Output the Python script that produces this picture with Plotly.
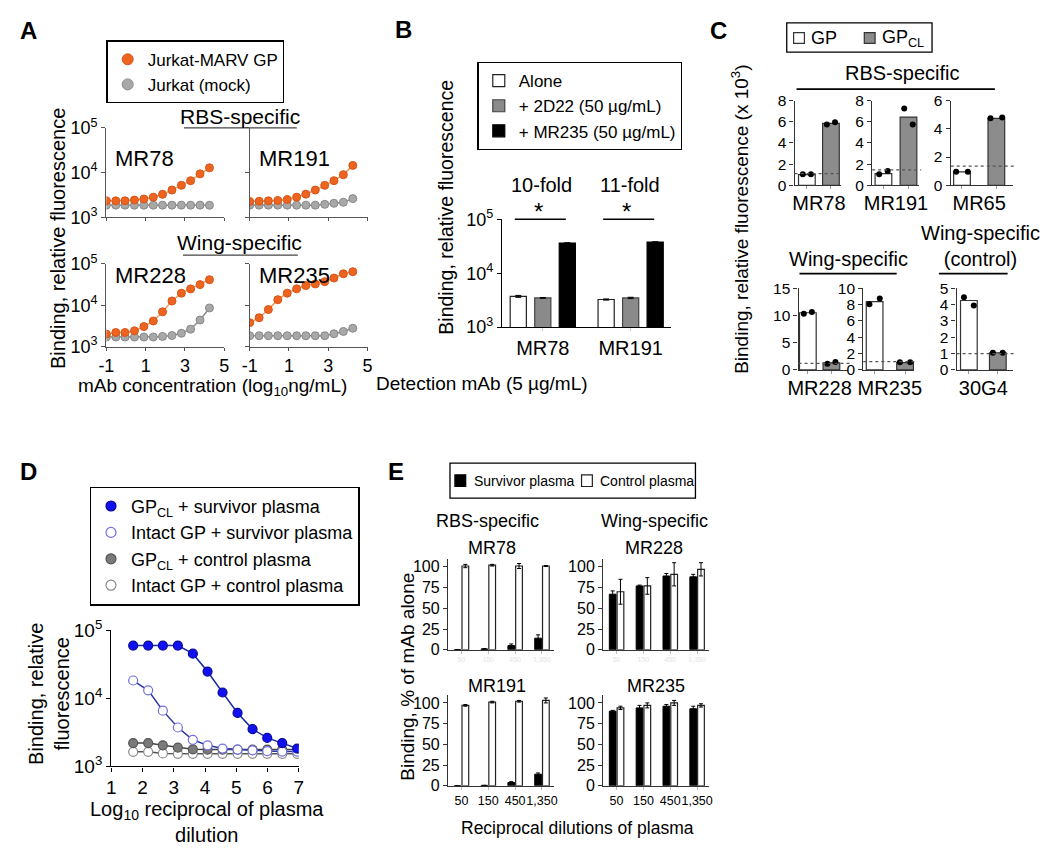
import plotly.graph_objects as go

# The page body has an 8px default margin, so the figure is drawn 8px smaller
# and all reference pixel positions are mapped by subtracting that offset.
PAGE_W, PAGE_H, BODY = 1050, 860, 8
W, H = PAGE_W - BODY, PAGE_H - BODY
ARIAL = "Liberation Sans, Arial, Helvetica, sans-serif"

# ---------------- DATA ----------------
# Panel A: binding vs mAb concentration (log10 ng/mL)
a_log_conc = [-1.0, -0.52, -0.05, 0.43, 0.91, 1.39, 1.86, 2.34, 2.82, 3.29, 3.77, 4.25]
a_xticks = [-1, 1, 3, 5]
a_mabs = ["MR78", "MR191", "MR228", "MR235"]
a_marv_mr78 = [2340, 2340, 2340, 2430, 2570, 2820, 3270, 4070, 5190, 6590, 9370, 12800]
a_mock_mr78 = [1870, 1870, 1870, 1870, 1870, 1870, 1870, 1870, 1870, 1870, 1870, 1860]
a_marv_mr191 = [2260, 2280, 2340, 2380, 2500, 2820, 3300, 4070, 5190, 6600, 9000, 14500]
a_mock_mr191 = [1870, 1870, 1870, 1870, 1870, 1870, 1870, 1870, 1950, 2060, 2170, 2620]
a_marv_mr228 = [2005, 2190, 2190, 2400, 3050, 4160, 6930, 12700, 19600, 24900, 31600, 41600]
a_mock_mr228 = [1700, 1700, 1700, 1700, 1700, 1700, 1760, 1850, 2100, 2640, 4390, 8600]
a_marv_mr235 = [3790, 4990, 7880, 13650, 19650, 24950, 29940, 32800, 37250, 45600, 58000, 65000]
a_mock_mr235 = [1830, 1830, 1830, 1830, 1830, 1830, 1830, 1830, 1830, 2040, 2320, 2780]
a_legend = ["Jurkat-MARV GP", "Jurkat (mock)"]

# Panel B: detection mAb binding with competitors
b_mabs = ["MR78", "MR191"]
b_alone = [3720, 3250]
b_alone_err = [150, 80]
b_2d22 = [3480, 3480]
b_2d22_err = [60, 100]
b_mr235 = [36200, 37700]
b_mr235_err = [600, 600]
b_names = ["Alone", "+ 2D22 (50 µg/mL)", "+ MR235 (50 µg/mL)"]
b_fold = ["10-fold", "11-fold"]

# Panel C: binding to GP vs GPCL (x 10^3)
c_groups = ["GP", "GP<sub>CL</sub>"]
c_top_mabs = ["MR78", "MR191", "MR65"]
c_top_gp = [1.0, 1.1, 0.95]
c_top_gp_reps = [[1.05, 1.05], [1.05, 1.35], [0.95, 0.95]]
c_top_gpcl = [5.85, 6.45, 4.75]
c_top_gpcl_reps = [[5.75, 5.95], [7.25, 5.75], [4.75, 4.8]]
c_top_cutoff = [1.1, 1.45, 1.35]
c_top_ymax = [8, 8, 6]
c_bot_mabs = ["MR228", "MR235", "30G4"]
c_bot_gp = [10.5, 8.35, 4.25]
c_bot_gp_reps = [[10.3, 10.65], [8.05, 8.75], [4.45, 3.95]]
c_bot_gpcl = [1.3, 0.9, 1.05]
c_bot_gpcl_reps = [[1.15, 1.45], [0.95, 0.95], [1.05, 1.05]]
c_bot_cutoff = [1.2, 1.0, 1.0]
c_bot_ymax = [15, 10, 5]
c_bot_dtick = [5, 2, 1]

# Panel D: plasma titration
d_log_dil = [1.7, 2.18, 2.65, 3.13, 3.61, 4.08, 4.56, 5.04, 5.52, 5.99, 6.47, 6.95]
d_gpcl_surv = [59800, 59800, 59800, 59800, 45400, 24800, 12190, 6100, 3530, 2620, 2200, 1830]
d_gp_surv = [18300, 13150, 6600, 3730, 2460, 2040, 1830, 1770, 1720, 1680, 1650, 1650]
d_gpcl_ctrl = [2200, 2200, 2040, 1890, 1780, 1770, 1770, 1770, 1770, 1770, 1770, 1770]
d_gp_ctrl = [1640, 1640, 1550, 1530, 1530, 1530, 1530, 1530, 1530, 1530, 1530, 1530]
d_names = ["GP<sub>CL</sub> + survivor plasma", "Intact GP + survivor plasma",
           "GP<sub>CL</sub> + control plasma", "Intact GP + control plasma"]

# Panel E: % of mAb alone
e_dil = ["50", "150", "450", "1,350"]
e_surv_mr78 = [0, 1, 5, 14]
e_surv_mr78_err = [0, 0.5, 2, 4]
e_ctrl_mr78 = [101, 102, 101, 101]
e_ctrl_mr78_err = [2, 1, 3, 0.5]
e_surv_mr228 = [67, 77, 89, 88]
e_surv_mr228_err = [4, 1, 3, 3]
e_ctrl_mr228 = [70, 77, 91, 97]
e_ctrl_mr228_err = [15, 10, 14, 8]
e_surv_mr191 = [0, 0.5, 4, 14]
e_surv_mr191_err = [0, 0.2, 1, 1.5]
e_ctrl_mr191 = [97, 101, 102, 103]
e_ctrl_mr191_err = [1, 1, 1, 3]
e_surv_mr235 = [90, 94, 96, 93]
e_surv_mr235_err = [1, 3, 2, 3]
e_ctrl_mr235 = [94, 97, 100, 97]
e_ctrl_mr235_err = [2, 3, 3, 2]
e_names = ["Survivor plasma", "Control plasma"]

# ---------------- HELPERS ----------------
fig = go.Figure()
axes_layout = {}
annotations = []
shapes = []
_n = [0]


def fx(px):
    return (px - BODY) / W


def fy(py):
    return 1 - (py - BODY) / H


def add_axes(x0, x1, ytop, ybot, xa, ya):
    _n[0] += 1
    s = "" if _n[0] == 1 else str(_n[0])
    axes_layout["xaxis" + s] = dict(domain=[fx(x0), fx(x1)], anchor="y" + s, **xa)
    axes_layout["yaxis" + s] = dict(domain=[fy(ybot), fy(ytop)], anchor="x" + s, **ya)
    return "x" + s, "y" + s


def base_axis(color="black", size=16, lw=1.3):
    return dict(showline=True, linecolor=color, linewidth=lw, ticks="outside",
                ticklen=4, tickwidth=lw, tickcolor=color, showgrid=False,
                zeroline=False, fixedrange=True, tickangle=0,
                tickfont=dict(size=size, family=ARIAL, color="black"))


def text(px, py, s, size=17, xanchor="center", yanchor="middle", angle=0):
    annotations.append(dict(x=fx(px), y=fy(py), xref="paper", yref="paper", text=s,
                            showarrow=False, xanchor=xanchor, yanchor=yanchor, textangle=angle,
                            font=dict(size=size, family=ARIAL, color="black")))


def hline(x0, x1, py, width=1.6, color="black"):
    shapes.append(dict(type="line", xref="paper", yref="paper", x0=fx(x0), x1=fx(x1),
                       y0=fy(py), y1=fy(py), line=dict(color=color, width=width)))


def box(x0, y0, x1, y1, fill="white", line="black", width=1.3):
    shapes.append(dict(type="rect", xref="paper", yref="paper", x0=fx(x0), x1=fx(x1),
                       y0=fy(y1), y1=fy(y0), fillcolor=fill, line=dict(color=line, width=width)))


LOGTICKS = dict(type="log", range=[3, 5], tickvals=[1e3, 1e4, 1e5],
                ticktext=["10<sup>3</sup>", "10<sup>4</sup>", "10<sup>5</sup>"])

# ---------------- PANEL A ----------------
ORANGE, ORANGE_LINE = "#EC6420", "#F39A5E"
GREY, GREY_LINE = "#A8A8A8", "#8C8C8C"
a_pos = [(97, 217, 118, 210), (243, 363, 118, 210), (97, 217, 258, 343), (243, 363, 258, 343)]
a_marv = [a_marv_mr78, a_marv_mr191, a_marv_mr228, a_marv_mr235]
a_mock = [a_mock_mr78, a_mock_mr191, a_mock_mr228, a_mock_mr235]
for i, name in enumerate(a_mabs):
    x0, x1, yt, yb = a_pos[i]
    xa = base_axis("#555", 18)
    xa.update(range=[-1, 5], tickvals=a_xticks, ticktext=[str(v) for v in a_xticks],
              showticklabels=i >= 2, ticklen=3)
    ya = base_axis("#555", 18)
    ya.update(LOGTICKS, showticklabels=(i % 2 == 0))
    xr, yr = add_axes(x0, x1, yt, yb, xa, ya)
    fig.add_trace(go.Scatter(x=a_log_conc, y=a_mock[i], mode="lines+markers", xaxis=xr, yaxis=yr,
                             line=dict(color=GREY_LINE, width=1.5), showlegend=False,
                             marker=dict(color=GREY, size=8, line=dict(color="#888", width=1))))
    fig.add_trace(go.Scatter(x=a_log_conc, y=a_marv[i], mode="lines+markers", xaxis=xr, yaxis=yr,
                             line=dict(color=ORANGE_LINE, width=1.5), showlegend=False,
                             marker=dict(color=ORANGE, size=8, line=dict(color="#D85518", width=1))))
    text(x0 + 7, yt + 32 if i < 2 else yt + 12, name, size=22, xanchor="left")
    if i == 0:
        for nm, col, lc in [(a_legend[0], ORANGE, "#D85518"), (a_legend[1], GREY, "#888")]:
            fig.add_trace(go.Scatter(x=[None], y=[None], mode="markers", name=nm, xaxis=xr, yaxis=yr,
                                     legend="legend",
                                     marker=dict(color=col, size=11, line=dict(color=lc, width=1))))

text(233, 106, "RBS-specific", size=21)
hline(176, 291, 118, width=1.2, color="#444")
text(233, 236, "Wing-specific", size=21)
hline(175, 292, 249, width=1.2, color="#444")
text(47, 232, "Binding, relative fluorescence", size=20, angle=-90)
text(205, 385, "mAb concentration (log<sub>10</sub>ng/mL)", size=19)
text(18, 18, "<b>A</b>", size=24)

# ---------------- PANEL B ----------------
xa = base_axis("black", 20)
xa.update(type="category", categoryarray=b_mabs, range=[-0.464, 1.458], ticklen=3, tickcolor="#ccc")
ya = base_axis("black", 18)
ya.update(LOGTICKS)
xr, yr = add_axes(500, 672, 212, 323, xa, ya)
b_series = [(b_alone, b_alone_err, "white", "#222", -0.371),
            (b_2d22, b_2d22_err, "#8A8A8A", "#444", -0.092),
            (b_mr235, b_mr235_err, "black", "black", 0.187)]
for k, (vals, errs, fill, lc, off) in enumerate(b_series):
    fig.add_trace(go.Bar(x=b_mabs, y=vals, name=b_names[k], xaxis=xr, yaxis=yr, legend="legend2",
                         offset=off, width=0.184,
                         marker=dict(color=fill, line=dict(color=lc, width=1.2)),
                         error_y=dict(type="data", array=errs, color="black", thickness=1, width=3)))
for k, cx in enumerate([540, 630]):
    text(cx, 177, b_fold[k], size=20)
    text(cx - 3, 204, "*", size=24)
    hline(cx - 27, cx + 25, 212, width=1.5)
text(443, 200, "Binding, relative fluorescence", size=19.5, angle=-90)
text(480, 381, "Detection mAb (5 µg/mL)", size=19)
text(400, 17, "<b>B</b>", size=24)

# ---------------- PANEL C ----------------
c_top_pos = [(798, 845, 810.5, 835), (877, 925, 888.5, 914), (957, 1020, 968.5, 1003.5)]
c_bot_pos = [(802, 852, 811.5, 835.5), (868, 920, 879.5, 910.5), (963, 1020, 975.5, 1005)]
C_FILLS = ["white", "#8C8C8C"]
for row in range(2):
    if row == 0:
        mabs, gp, gpr, cl, clr, cut, ymax = (c_top_mabs, c_top_gp, c_top_gp_reps, c_top_gpcl,
                                            c_top_gpcl_reps, c_top_cutoff, c_top_ymax)
        dticks = [2, 2, 2]
        pos, yt, yb = c_top_pos, 90, 177
    else:
        mabs, gp, gpr, cl, clr, cut, ymax = (c_bot_mabs, c_bot_gp, c_bot_gp_reps, c_bot_gpcl,
                                            c_bot_gpcl_reps, c_bot_cutoff, c_bot_ymax)
        dticks = c_bot_dtick
        pos, yt, yb = c_bot_pos, 283, 367
    for j, name in enumerate(mabs):
        x0, x1, wc, gc = pos[j]
        unit = gc - wc
        xa = base_axis("#333", 20)
        xa.update(range=[(x0 - wc) / unit, (x1 - wc) / unit], tickvals=[0.5], ticktext=[name], ticks="",
                  minor=dict(tickvals=[0, 1], ticks="outside", ticklen=3, tickcolor="#999"))
        ya = base_axis("#333", 15.5)
        ya.update(range=[0, ymax[j]], dtick=dticks[j], tick0=0)
        xr, yr = add_axes(x0, x1, yt, yb, xa, ya)
        idx = list(range(len(c_groups)))
        for g, val in enumerate([gp[j], cl[j]]):
            fig.add_trace(go.Bar(x=[idx[g]], y=[val], width=17 / unit, name=c_groups[g],
                                 xaxis=xr, yaxis=yr, showlegend=False,
                                 marker=dict(color=C_FILLS[g], line=dict(color="#333", width=1.2))))
        for g, reps in enumerate([gpr[j], clr[j]]):
            fig.add_trace(go.Scatter(x=[idx[g] - 0.17, idx[g] + 0.17], y=reps, mode="markers",
                                     xaxis=xr, yaxis=yr, showlegend=False,
                                     marker=dict(color="black", size=6)))
        shapes.append(dict(type="line", xref=xr + " domain", yref=yr, x0=0, x1=1.04,
                           y0=cut[j], y1=cut[j], line=dict(color="#555", width=1.2, dash="dot")))

# C legend (drawn box)
box(790, 10, 938, 40)
box(797, 20, 808, 31, fill=C_FILLS[0], line="#333", width=1.2)
text(813, 26, c_groups[0], size=18, xanchor="left")
box(869, 20, 880, 31, fill=C_FILLS[1], line="#333", width=1.2)
text(885, 26, c_groups[1], size=18, xanchor="left")

text(907, 62, "RBS-specific", size=20)
hline(800, 1002, 78, width=1.8)
text(853, 253, "Wing-specific", size=20)
hline(803, 902, 268, width=1.8)
text(987, 240, "Wing-specific<br>(control)", size=20)
hline(945, 1015, 268, width=1.8)
text(743, 212, "Binding, relative fluorescence (x 10<sup>3</sup>)", size=19, angle=-90)
text(720, 18, "<b>C</b>", size=24)

# ---------------- PANEL D ----------------
xa = base_axis("black", 19)
xa.update(range=[1, 7], dtick=1, tick0=1)
ya = base_axis("black", 19)
ya.update(LOGTICKS)
xr, yr = add_axes(102, 293, 635, 775, xa, ya)
d_styles = [
    (d_gp_ctrl, "white", "#8A8A8A", "#555"),
    (d_gpcl_ctrl, "#7A7A7A", "#555", "#444"),
    (d_gp_surv, "white", "#7070E0", "#2A35A0"),
    (d_gpcl_surv, "#1010F0", "#0A0A9A", "#1A2AA0"),
]
d_name_idx = [3, 2, 1, 0]
for (vals, fill, edge, lcol) in d_styles:
    fig.add_trace(go.Scatter(x=d_log_dil, y=vals, mode="lines+markers", xaxis=xr, yaxis=yr,
                             showlegend=False, line=dict(color=lcol, width=1.5),
                             marker=dict(color=fill, size=9, line=dict(color=edge, width=1.2))))
for k in [3, 2, 1, 0]:
    vals, fill, edge, lcol = d_styles[k]
    fig.add_trace(go.Scatter(x=[None], y=[None], mode="markers", name=d_names[d_name_idx[k]],
                             xaxis=xr, yaxis=yr, legend="legend4",
                             marker=dict(color=fill, size=10, line=dict(color=edge, width=1.2))))
text(38, 700, "Binding, relative<br>fluorescence", size=20, angle=-90)
text(200, 832, "Log<sub>10</sub> reciprocal of plasma<br>dilution", size=20)
text(18, 472, "<b>D</b>", size=24)

# ---------------- PANEL E ----------------
e_pos = [(445, 553, 562, 655), (603, 711, 562, 655), (445, 553, 702, 795), (603, 711, 702, 795)]
e_surv = [e_surv_mr78, e_surv_mr228, e_surv_mr191, e_surv_mr235]
e_surv_err = [e_surv_mr78_err, e_surv_mr228_err, e_surv_mr191_err, e_surv_mr235_err]
e_ctrl = [e_ctrl_mr78, e_ctrl_mr228, e_ctrl_mr191, e_ctrl_mr235]
e_ctrl_err = [e_ctrl_mr78_err, e_ctrl_mr228_err, e_ctrl_mr191_err, e_ctrl_mr235_err]
E_FILLS = ["black", "white"]
for i in range(4):
    x0, x1, yt, yb = e_pos[i]
    xa = base_axis("#333", 12.5)
    xa.update(type="category", categoryarray=e_dil, range=[-0.5, 3.45], ticklen=3, tickcolor="#bbb")
    if i < 2:
        xa.update(tickfont=dict(size=7, family=ARIAL, color="#e4e4e4"))
    ya = base_axis("#333", 16)
    ya.update(range=[0, 109], tickvals=[0, 25, 50, 75, 100])
    xr, yr = add_axes(x0, x1, yt, yb, xa, ya)
    fig.add_trace(go.Bar(x=e_dil, y=e_surv[i], name=e_names[0], xaxis=xr, yaxis=yr,
                         showlegend=False, offset=-0.27, width=0.25,
                         marker=dict(color=E_FILLS[0], line=dict(color="black", width=1)),
                         error_y=dict(type="data", array=e_surv_err[i], color="black", thickness=1, width=2)))
    fig.add_trace(go.Bar(x=e_dil, y=e_ctrl[i], name=e_names[1], xaxis=xr, yaxis=yr,
                         showlegend=False, offset=0.02, width=0.25,
                         marker=dict(color=E_FILLS[1], line=dict(color="#222", width=1.2)),
                         error_y=dict(type="data", array=e_ctrl_err[i], color="black", thickness=1, width=2)))

# E legend (drawn box)
box(447, 463, 697, 499)
box(452, 475, 463, 487, fill=E_FILLS[0], line="black", width=1.2)
text(469, 481, e_names[0], size=14, xanchor="left")
box(581, 475, 592, 487, fill=E_FILLS[1], line="#222", width=1.2)
text(598, 481, e_names[1], size=14, xanchor="left")

text(485, 523, "RBS-specific", size=18)
text(490, 550, "MR78", size=18)
text(655, 523, "Wing-specific", size=18)
text(655, 550, "MR228", size=18)
text(495, 692, "MR191", size=18)
text(657, 692, "MR235", size=18)
text(577, 838, "Reciprocal dilutions of plasma", size=17.5)
text(404, 683, "Binding, % of mAb alone", size=19, angle=-90)
text(392, 472, "<b>E</b>", size=24)

# ---------------- LAYOUT ----------------
leg = dict(bordercolor="black", borderwidth=1.3, bgcolor="white", xanchor="left", yanchor="top",
           itemclick=False, itemdoubleclick=False, tracegroupgap=0)
fig.update_layout(
    width=W, height=H, margin=dict(l=0, r=0, t=0, b=0),
    paper_bgcolor="white", plot_bgcolor="white",
    barmode="overlay", font=dict(family=ARIAL, color="black"),
    annotations=annotations, shapes=shapes,
    legend=dict(x=fx(97), y=fy(28), font=dict(size=17, family=ARIAL), **leg),
    legend2=dict(x=fx(475), y=fy(50), font=dict(size=17, family=ARIAL), **leg),
    legend4=dict(x=fx(80), y=fy(487), font=dict(size=18, family=ARIAL), **leg),
    **axes_layout,
)
fig.write_html("out.html")
